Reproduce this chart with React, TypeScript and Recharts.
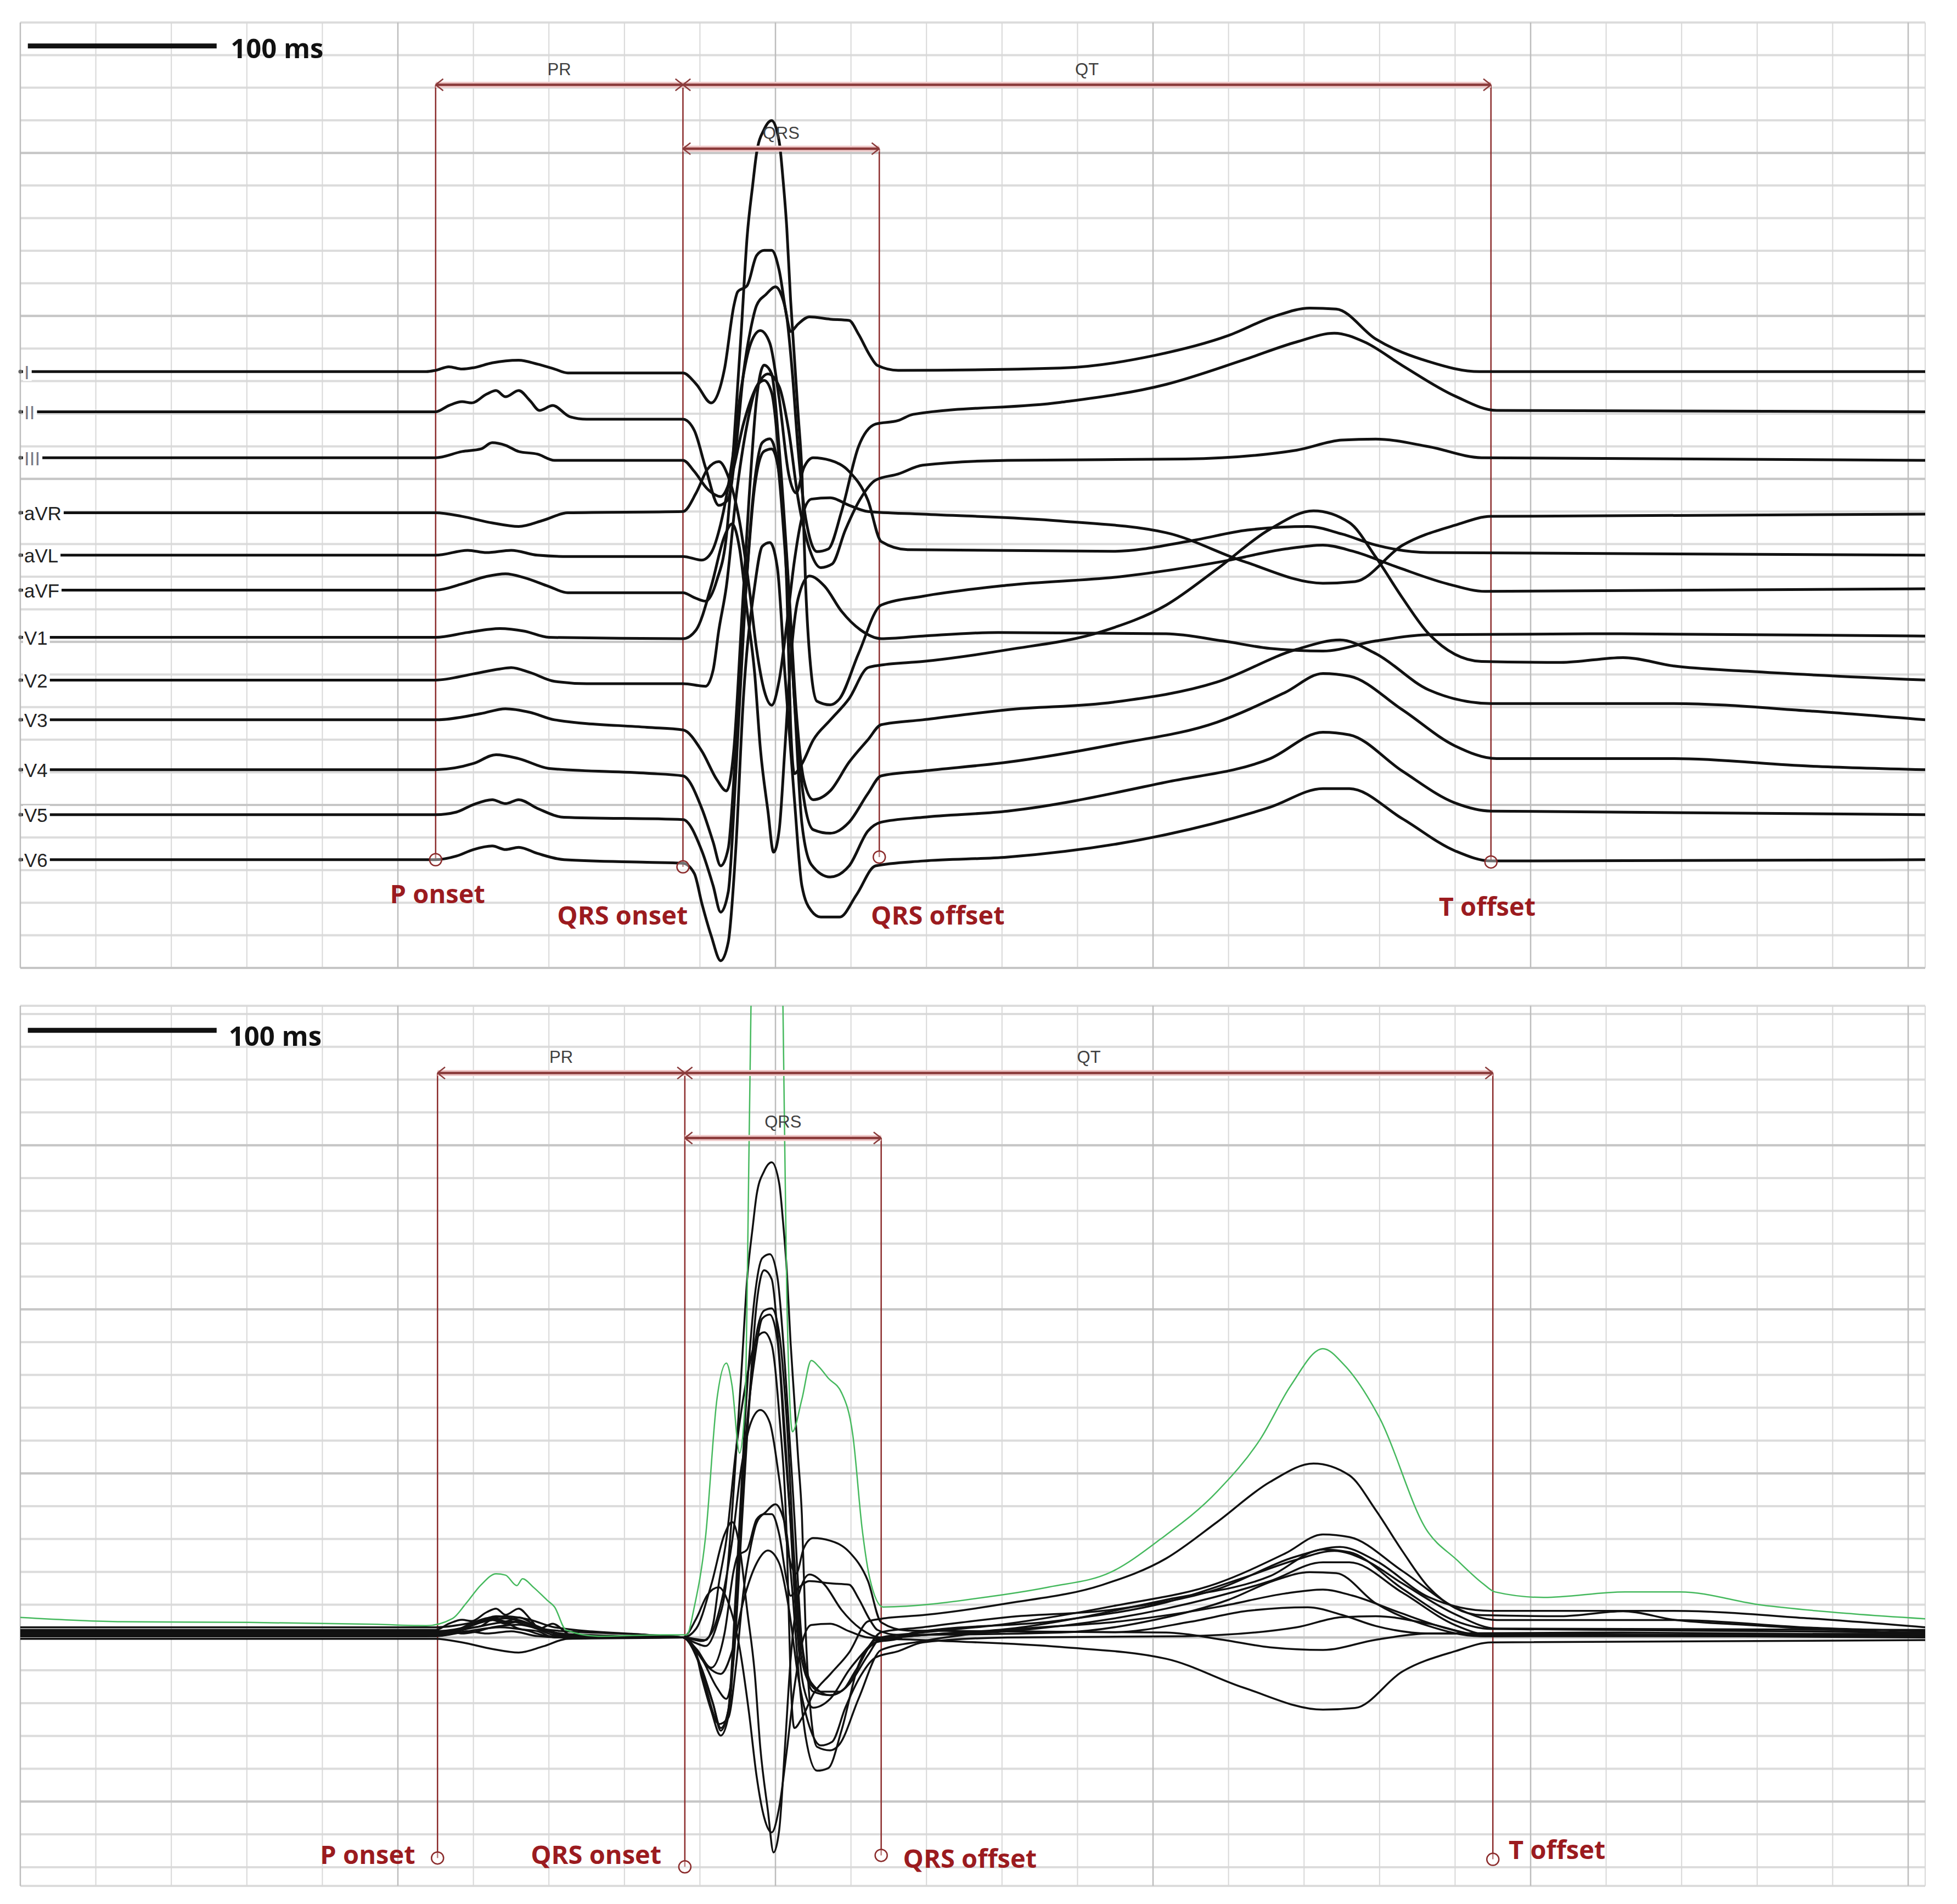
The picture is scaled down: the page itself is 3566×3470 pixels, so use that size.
import React from "react";
import { LineChart, Line, XAxis, YAxis, CartesianGrid, ReferenceLine, ReferenceDot } from "recharts";

type Pt = [number, number];

// Each lead: [time in ms, amplitude in µV relative to the PR segment]
const LEAD_NAMES = ["I", "II", "III", "aVR", "aVL", "aVF", "V1", "V2", "V3", "V4", "V5", "V6"];

const LEAD_I: Pt[] = [
  [0, 4], [215, 4], [220, 8], [227, 19], [234, 12], [240, 16], [250, 31], [264, 39], [274, 27], [283, 12], [290, 0], [351, 0],
  [358, -34], [366, -92], [373, 12], [378, 207], [380, 249], [385, 268], [390, 360], [394, 376], [398, 376], [402, 314],
  [406, 172], [408, 127], [412, 150], [418, 172], [429, 165], [439, 161], [444, 119], [450, 54], [454, 23], [465, 8],
  [551, 15], [601, 54], [640, 115], [664, 173], [683, 199], [697, 196], [718, 104], [746, 35], [773, 4], [1009, 4],
];
const LEAD_II: Pt[] = [
  [0, 23], [215, 23], [220, 23], [227, 42], [234, 54], [239, 50], [247, 77], [252, 88], [257, 69], [264, 88], [270, 57],
  [275, 27], [282, 42], [291, 8], [300, 0], [351, 0], [357, -34], [363, -149], [370, -264], [375, -245], [379, -92],
  [383, 138], [387, 280], [390, 349], [395, 383], [400, 406], [403, 383], [406, 314], [409, 138], [412, -92], [416, -303],
  [422, -406], [428, -398], [435, -283], [444, -84], [453, -15], [465, -4], [473, 15], [551, 52], [607, 107], [648, 182],
  [676, 237], [696, 264], [712, 237], [732, 165], [760, 71], [782, 27], [1009, 23],
];
const LEAD_III: Pt[] = [
  [0, 8], [215, 8], [220, 8], [234, 27], [244, 35], [250, 54], [257, 46], [264, 27], [274, 19], [283, 0], [351, 0],
  [357, -34], [364, -88], [371, -111], [377, -42], [383, 111], [390, 226], [396, 265], [402, 226], [407, 92], [412, -118],
  [418, -271], [424, -329], [430, -318], [437, -214], [445, -118], [453, -61], [465, -42], [478, -15], [523, 0], [617, 4],
  [676, 31], [700, 62], [718, 65], [746, 42], [774, 8], [1009, 0],
];
const LEAD_AVR: Pt[] = [
  [0, -4], [215, -4], [220, -4], [234, -15], [250, -35], [264, -46], [277, -27], [290, -4], [351, 0], [358, 57], [364, 130],
  [370, 153], [375, 107], [381, -31], [386, -230], [390, -422], [394, -548], [398, -594], [402, -517], [406, -345],
  [410, -153], [414, -19], [419, 38], [429, 42], [439, 19], [449, 0], [478, -8], [551, -29], [607, -65], [648, -153],
  [690, -220], [707, -215], [732, -104], [760, -42], [779, -15], [1009, -8],
];
const LEAD_AVL: Pt[] = [
  [0, 4], [215, 4], [220, 4], [237, 19], [247, 12], [260, 19], [274, 4], [290, 0], [351, 0], [361, -11], [366, 12],
  [371, 100], [377, 291], [382, 521], [387, 655], [392, 693], [397, 655], [402, 483], [407, 253], [411, 195], [415, 272],
  [420, 303], [429, 295], [439, 261], [449, 172], [456, 46], [470, 21], [579, 16], [620, 48], [650, 81], [682, 92],
  [700, 69], [718, 35], [746, 12], [1009, 4],
];
const LEAD_AVF: Pt[] = [
  [0, 8], [215, 8], [220, 8], [234, 27], [247, 50], [257, 58], [267, 46], [280, 19], [290, 0], [351, 0], [357, -15],
  [363, -26], [369, 39], [374, 173], [378, 460], [380, 636], [382, 812], [385, 1092], [388, 1253], [390, 1348], [394, 1421],
  [398, 1448], [402, 1383], [404, 1268], [406, 1119], [408, 900], [410, 724], [412, 548], [414, 372], [416, 19],
  [419, -249], [422, -333], [429, -344], [434, -325], [444, -187], [456, -38], [478, -11], [523, 23], [584, 50], [637, 96],
  [670, 134], [690, 146], [706, 127], [730, 77], [756, 27], [776, 4], [1009, 12],
];
const LEAD_V1: Pt[] = [
  [0, 4], [215, 4], [220, 4], [237, 19], [254, 31], [267, 23], [280, 4], [351, 0], [358, 27], [366, 161], [373, 314],
  [377, 352], [381, 276], [385, 84], [389, -107], [392, -337], [396, -528], [399, -655], [402, -586], [405, -337],
  [408, -69], [412, 123], [418, 192], [426, 161], [435, 84], [445, 27], [456, 0], [478, 8], [518, 19], [607, 15],
  [637, -7], [662, -30], [690, -38], [718, -7], [746, 12], [848, 15], [1009, 8],
];
const LEAD_V2: Pt[] = [
  [0, 11], [215, 11], [220, 11], [240, 30], [254, 45], [260, 49], [270, 34], [283, 7], [300, 0], [351, 0], [363, -8],
  [367, 42], [370, 164], [374, 298], [379, 566], [385, 796], [390, 911], [394, 930], [398, 892], [402, 681], [406, 298],
  [408, -123], [410, -276], [414, -246], [420, -173], [429, -112], [439, -46], [449, 49], [456, 57], [478, 68], [523, 104],
  [573, 160], [607, 241], [634, 352], [662, 474], [685, 530], [704, 494], [718, 388], [732, 264], [746, 153], [774, 68],
  [816, 65], [849, 80], [876, 54], [915, 38], [1009, 11],
];
const LEAD_V3: Pt[] = [
  [0, 31], [215, 31], [220, 31], [244, 50], [257, 65], [270, 54], [283, 31], [332, 8], [351, 0], [361, -65], [369, -153],
  [374, -187], [378, -57], [382, 326], [386, 709], [390, 1015], [394, 1119], [398, 1092], [402, 862], [407, 441], [411, 58],
  [415, -153], [420, -214], [429, -187], [439, -99], [449, -30], [456, 16], [478, 31], [523, 62], [579, 85], [634, 147],
  [676, 247], [699, 276], [718, 234], [746, 123], [779, 81], [876, 81], [948, 58], [1009, 31],
];
const LEAD_V4: Pt[] = [
  [0, 19], [215, 19], [220, 19], [240, 38], [252, 65], [264, 53], [280, 23], [332, 8], [351, 0], [361, -100], [367, -203],
  [371, -276], [375, -222], [379, 84], [384, 544], [389, 888], [394, 996], [398, 1003], [402, 927], [406, 659], [410, 237],
  [415, -69], [420, -165], [429, -176], [439, -142], [449, -54], [456, 0], [478, 15], [523, 42], [579, 96], [634, 165],
  [670, 256], [690, 314], [704, 306], [732, 203], [760, 92], [782, 53], [876, 53], [948, 30], [1009, 19],
];
const LEAD_V5: Pt[] = [
  [0, 15], [215, 15], [220, 15], [231, 23], [240, 46], [250, 61], [257, 49], [264, 61], [274, 34], [288, 7], [351, 0],
  [361, -96], [367, -203], [371, -284], [375, -222], [379, 141], [384, 674], [389, 1038], [393, 1156], [397, 1168],
  [401, 1099], [405, 831], [410, 371], [414, -12], [419, -138], [429, -176], [439, -142], [449, -35], [456, -8], [478, 7],
  [523, 26], [607, 115], [662, 187], [690, 268], [704, 260], [732, 149], [760, 51], [779, 26], [1009, 15],
];
const LEAD_V6: Pt[] = [
  [0, 11], [215, 11], [220, 11], [231, 22], [240, 42], [250, 53], [257, 42], [264, 49], [274, 30], [288, 11], [332, 3],
  [351, 0], [357, -31], [361, -123], [366, -223], [371, -299], [375, -242], [379, 45], [383, 505], [389, 850], [393, 972],
  [397, 984], [401, 907], [405, 581], [410, 199], [414, -69], [419, -146], [424, -165], [434, -165], [443, -96], [453, -8],
  [478, 7], [523, 19], [607, 88], [662, 172], [690, 229], [704, 229], [732, 137], [760, 38], [779, 7], [1009, 11],
];

// green trace of the superimposed panel
const ENVELOPE: Pt[] = [
  [0, 61], [54, 48], [121, 46], [189, 40], [215, 36], [229, 58], [236, 103], [244, 160], [252, 194], [257, 190],
  [263, 158], [266, 179], [272, 152], [279, 114], [283, 93], [289, 23], [306, 4], [340, 8], [353, 8], [357, 93],
  [363, 308], [369, 726], [374, 836], [377, 768], [381, 562], [384, 726], [385, 1047], [387, 1910], [388, 2098],
  [394, 2600], [398, 2700], [402, 2500], [404, 1910], [406, 1047], [409, 627], [414, 726], [419, 844], [423, 825],
  [428, 790], [435, 746], [441, 616], [446, 327], [450, 179], [457, 93], [514, 125], [545, 154], [578, 200], [604, 300],
  [634, 445], [657, 606], [673, 768], [690, 880], [701, 832], [720, 669], [745, 327], [761, 236], [775, 163],
  [781, 139], [807, 122], [850, 139], [879, 139], [922, 99], [971, 72], [1009, 57],
];

const LEADS = [LEAD_I, LEAD_II, LEAD_III, LEAD_AVR, LEAD_AVL, LEAD_AVF, LEAD_V1, LEAD_V2, LEAD_V3, LEAD_V4, LEAD_V5, LEAD_V6];

// stacked panel: level of each lead's PR segment (µV above the bottom edge)
const LEAD_OFFSETS = [1825, 1683, 1557, 1400, 1262, 1151, 1010, 872, 730, 589, 455, 321];

const EVENT_NAMES = ["P onset", "QRS onset", "QRS offset", "T offset"];
const EVENTS_TOP = [220, 351, 455, 779];
const EVENTS_BOTTOM = [221, 352, 456, 780];
// intervals as [name, from event, to event]
const INTERVALS: [string, number, number][] = [["PR", 0, 1], ["QT", 1, 3], ["QRS", 1, 2]];

const W = 3566;
const RED_LINE = "#8b2c2c";
const RED_TEXT = "#9b1b1f";
const BAR = "#8a3a3a";
const HALO = "#efc9c9";

const range = (a: number, b: number, s: number) => {
  const out: number[] = [];
  for (let v = a; v <= b; v += s) out.push(v);
  return out;
};
const X_DOMAIN: [number, number] = [0, 1009];
const X_MINOR = range(0, 1000, 40);
const X_MAJOR = range(0, 1000, 200);

const ARIAL_W: Record<string, number> = { I: 0.278, V: 0.667, a: 0.556, R: 0.722, L: 0.556, F: 0.611 };
const textWidth = (s: string, size: number) =>
  s.split("").reduce((acc, c) => acc + (ARIAL_W[c] ?? 0.556), 0) * size;

const vbCenter = (p: any) => {
  const vb = p.viewBox ?? { x: p.x ?? 0, y: p.y ?? 0, width: 0, height: 0 };
  return { cx: vb.x + (vb.width || 0) / 2, cy: vb.y + (vb.height || 0) / 2 };
};

const textAt = (value: string, style: Record<string, any>) => (p: any) => {
  const { cx, cy } = vbCenter(p);
  return (
    <text x={cx} y={cy} textAnchor="middle" dominantBaseline="central" {...style}>
      {value}
    </text>
  );
};

const leadTag = (name: string) => (p: any) => {
  const { cx, cy } = vbCenter(p);
  const roman = /^I+$/.test(name);
  const w = textWidth(name, 35) + 6;
  return (
    <g>
      <rect x={cx + 5} y={cy - 17} width={w} height={34} fill="#fff" />
      <text x={cx + 7} y={cy + 1} dominantBaseline="central" fontFamily="Liberation Sans, Arial, sans-serif"
        fontSize={35} fill={roman ? "#7a7a85" : "#222"}>
        {name}
      </text>
    </g>
  );
};

type Layout = {
  scaleY: number; scaleTextT: number; scaleTextY: number;
  barY: number; barLabelY: number; qrsY: number; qrsLabelY: number;
  circleY: number[]; labelT: number[]; labelY: number[];
};

const TOP_LAYOUT: Layout = {
  scaleY: 2828, scaleTextT: 136, scaleTextY: 2822,
  barY: 2709, barLabelY: 2756, qrsY: 2513, qrsLabelY: 2561,
  circleY: [332, 310, 340, 325], labelT: [221, 319, 486, 777], labelY: [229, 163, 163, 190],
};
const BOTTOM_LAYOUT: Layout = {
  scaleY: 1850, scaleTextT: 135, scaleTextY: 1834,
  barY: 1720, barLabelY: 1768, qrsY: 1522, qrsLabelY: 1572,
  circleY: [-672, -699, -664, -676], labelT: [184, 305, 503, 814], labelY: [-660, -660, -672, -645],
};

type Series = { data: { t: number; v: number }[]; color: string; width: number };
type PanelCfg = {
  height: number;
  margin: { top: number; right: number; bottom: number; left: number };
  yDomain: [number, number];
  yTicks: number[];
  yMajor: number[];
  series: Series[];
  events: number[];
  layout: Layout;
  tags: boolean;
};

const seg = (x1: number, y1: number, x2: number, y2: number) => [{ x: x1, y: y1 }, { x: x2, y: y2 }];

function Panel({ cfg }: { cfg: PanelCfg }) {
  const L = cfg.layout;
  const ev = cfg.events;
  const barFor = (name: string) => (name === "QRS" ? L.qrsY : L.barY);
  const hangFrom = [L.barY, L.barY, L.qrsY, L.barY];
  const ah = 4; // arrowhead length (ms)
  const av = 18; // arrowhead half-height (µV)

  return (
    <LineChart width={W} height={cfg.height} margin={cfg.margin}>
      <XAxis type="number" dataKey="t" domain={X_DOMAIN} ticks={X_MINOR} hide allowDataOverflow />
      <YAxis type="number" domain={cfg.yDomain} ticks={cfg.yTicks} hide allowDataOverflow />
      <CartesianGrid vertical={false} stroke="#dcdcdc" strokeWidth={4} />
      <CartesianGrid horizontal={false} stroke="#d8d8d8" strokeWidth={2} />
      {cfg.yMajor.map((y) => (
        <ReferenceLine key={"hy" + y} y={y} stroke="#c6c6c6" strokeWidth={4} />
      ))}
      {X_MAJOR.map((x) => (
        <ReferenceLine key={"vx" + x} x={x} stroke="#bdbdbd" strokeWidth={2.5} />
      ))}

      {ev.map((t, i) => (
        <ReferenceLine key={"ev" + i} segment={seg(t, hangFrom[i], t, L.circleY[i])} stroke={RED_LINE} strokeWidth={2.5} />
      ))}

      {cfg.series.map((s, i) => (
        <Line
          key={"s" + i}
          data={s.data}
          dataKey="v"
          type="monotone"
          stroke={s.color}
          strokeWidth={s.width}
          strokeLinejoin="round"
          dot={false}
          activeDot={false}
          isAnimationActive={false}
        />
      ))}

      {INTERVALS.map(([name, a, b]) => {
        const y = barFor(name);
        return [
          <ReferenceLine key={name + "h"} segment={seg(ev[a], y, ev[b], y)} stroke={HALO} strokeWidth={11} />,
          <ReferenceLine key={name + "b"} segment={seg(ev[a], y, ev[b], y)} stroke={BAR} strokeWidth={4.5} />,
          <ReferenceLine key={name + "l1"} segment={seg(ev[a], y, ev[a] + ah, y + av)} stroke={BAR} strokeWidth={2.5} />,
          <ReferenceLine key={name + "l2"} segment={seg(ev[a], y, ev[a] + ah, y - av)} stroke={BAR} strokeWidth={2.5} />,
          <ReferenceLine key={name + "r1"} segment={seg(ev[b], y, ev[b] - ah, y + av)} stroke={BAR} strokeWidth={2.5} />,
          <ReferenceLine key={name + "r2"} segment={seg(ev[b], y, ev[b] - ah, y - av)} stroke={BAR} strokeWidth={2.5} />,
          <ReferenceDot
            key={name + "t"}
            x={(ev[a] + ev[b]) / 2}
            y={name === "QRS" ? L.qrsLabelY : L.barLabelY}
            r={0}
            fill="none"
            stroke="none"
            label={textAt(name, { fontFamily: "Liberation Sans, Arial, sans-serif", fontSize: 31, fill: "#404040" })}
          />,
        ];
      })}

      {ev.map((t, i) => (
        <ReferenceDot key={"c" + i} x={t} y={L.circleY[i]} r={11} fill="#fff" fillOpacity={0.4} stroke={RED_LINE} strokeWidth={2.5} />
      ))}
      {EVENT_NAMES.map((name, i) => (
        <ReferenceDot
          key={"lab" + i}
          x={L.labelT[i]}
          y={L.labelY[i]}
          r={0}
          fill="none"
          stroke="none"
          label={textAt(name, { fontFamily: "Open Sans, sans-serif", fontWeight: 700, fontSize: 47, fill: RED_TEXT })}
        />
      ))}

      <ReferenceLine segment={seg(4, L.scaleY, 104, L.scaleY)} stroke="#111" strokeWidth={9} />
      <ReferenceDot
        x={L.scaleTextT}
        y={L.scaleTextY}
        r={0}
        fill="none"
        stroke="none"
        label={textAt("100 ms", { fontFamily: "Open Sans, sans-serif", fontWeight: 700, fontSize: 49, fill: "#111" })}
      />

      {cfg.tags &&
        LEAD_NAMES.map((name, i) => (
          <ReferenceDot
            key={"tag" + i}
            x={0}
            y={LEAD_OFFSETS[i] + LEADS[i][0][1]}
            r={3.5}
            fill="#666"
            stroke="none"
            label={leadTag(name)}
          />
        ))}
    </LineChart>
  );
}

const topCfg: PanelCfg = {
  height: 1800,
  margin: { top: 41, right: W - 3508, bottom: 36, left: 37 },
  yDomain: [0, 2900],
  yTicks: range(0, 2900, 100),
  yMajor: range(0, 2500, 500),
  series: LEADS.map((pts, i) => ({
    data: pts.map(([t, v]) => ({ t, v: LEAD_OFFSETS[i] + v })),
    color: "#111",
    width: 5,
  })),
  events: EVENTS_TOP,
  layout: TOP_LAYOUT,
  tags: true,
};

const bottomCfg: PanelCfg = {
  height: 1670,
  margin: { top: 33, right: W - 3508, bottom: 33, left: 37 },
  yDomain: [-757, 1925],
  yTicks: range(-700, 1900, 100),
  yMajor: range(-500, 1500, 500),
  series: [
    ...LEADS.map((pts) => ({ data: pts.map(([t, v]) => ({ t, v })), color: "#111", width: 3.5 })),
    { data: ENVELOPE.map(([t, v]) => ({ t, v })), color: "#46b95e", width: 2.5 },
  ],
  events: EVENTS_BOTTOM,
  layout: BOTTOM_LAYOUT,
  tags: false,
};

export default function App() {
  return (
    <div style={{ position: "absolute", left: 0, top: 0, width: W, height: 3470, background: "#fff" }}>
      <Panel cfg={topCfg} />
      <Panel cfg={bottomCfg} />
    </div>
  );
}
